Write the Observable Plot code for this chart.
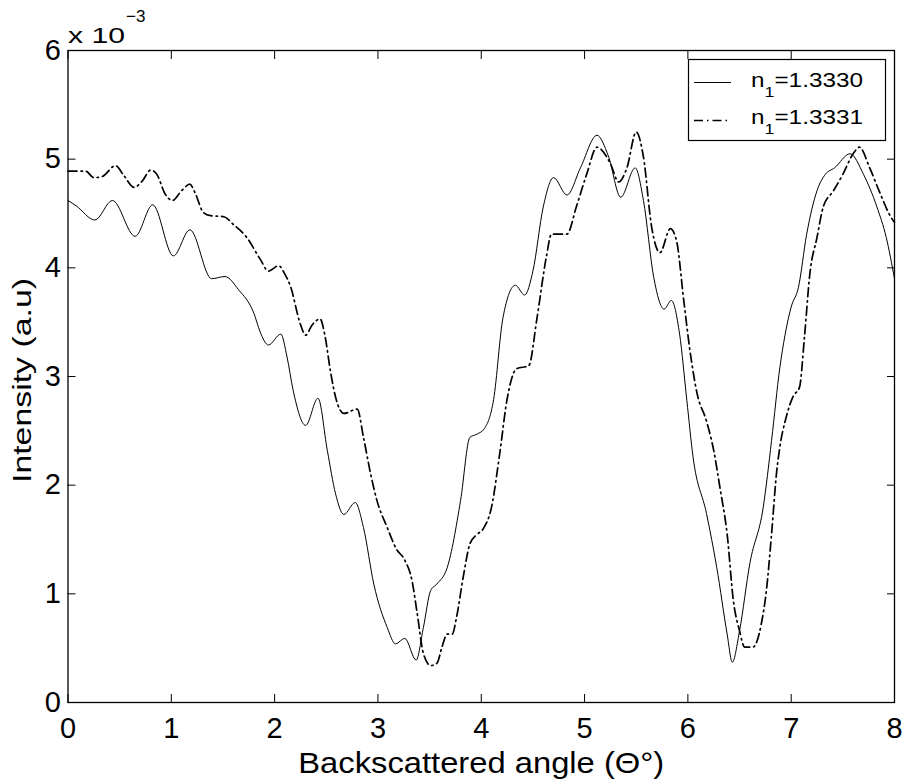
<!DOCTYPE html>
<html>
<head>
<meta charset="utf-8">
<script src="https://cdn.jsdelivr.net/npm/d3@7"></script>
<script src="https://cdn.jsdelivr.net/npm/@observablehq/plot@0.6"></script>
<style>
  html, body { margin: 0; padding: 0; background: white; }
  #wrap { position: relative; width: 902px; height: 782px; }
</style>
</head>
<body>
<div id="wrap">
  <div id="chart"></div>
</div>
<script>
// Backscattered angle (degrees) and intensity (x 1e-3), n1 = 1.3330
const thetaSolid = [0.00,0.08,0.26,0.43,0.65,0.82,1.02,1.18,1.39,1.52,1.65,1.80,1.86,1.94,2.06,2.12,2.18,2.30,2.42,2.51,2.59,2.67,2.78,2.86,2.96,3.09,3.17,3.26,3.37,3.44,3.51,3.57,3.67,3.80,3.89,3.96,4.03,4.12,4.21,4.33,4.42,4.50,4.60,4.70,4.83,4.96,5.12,5.23,5.35,5.49,5.57,5.67,5.77,5.84,5.92,5.99,6.05,6.18,6.28,6.38,6.43,6.50,6.60,6.73,6.81,6.89,6.94,7.00,7.07,7.15,7.25,7.33,7.42,7.57,7.70,7.83,7.92,8.00];
const intSolid   = [4.62,4.57,4.44,4.62,4.29,4.58,4.11,4.35,3.90,3.92,3.80,3.58,3.41,3.29,3.39,3.18,2.87,2.55,2.80,2.32,1.92,1.73,1.84,1.61,1.09,0.69,0.54,0.59,0.39,0.69,1.03,1.09,1.24,1.86,2.44,2.47,2.52,2.79,3.54,3.84,3.75,3.97,4.56,4.83,4.67,4.92,5.22,5.03,4.65,4.92,4.62,3.91,3.62,3.70,3.39,2.78,2.26,1.74,1.24,0.63,0.37,0.66,1.28,1.80,2.41,3.08,3.38,3.64,3.82,4.31,4.71,4.86,4.92,5.05,4.86,4.56,4.28,3.90];

// n1 = 1.3331
const thetaDash = [0.00,0.17,0.25,0.33,0.46,0.54,0.64,0.72,0.80,0.86,0.94,1.01,1.10,1.18,1.23,1.31,1.38,1.51,1.60,1.73,1.86,1.94,2.04,2.10,2.15,2.25,2.30,2.36,2.44,2.49,2.54,2.59,2.67,2.80,2.86,2.93,2.99,3.09,3.18,3.26,3.33,3.38,3.44,3.51,3.57,3.62,3.67,3.72,3.76,3.83,3.89,3.95,4.02,4.10,4.18,4.25,4.34,4.46,4.54,4.63,4.68,4.83,4.92,5.02,5.12,5.25,5.33,5.41,5.50,5.57,5.65,5.73,5.83,5.89,5.96,6.02,6.09,6.18,6.25,6.31,6.38,6.44,6.50,6.55,6.63,6.71,6.76,6.81,6.86,6.89,6.95,7.02,7.08,7.13,7.18,7.25,7.31,7.41,7.50,7.60,7.66,7.76,7.85,7.97,8.00];
const intDash   = [4.89,4.89,4.83,4.84,4.94,4.85,4.74,4.80,4.90,4.86,4.68,4.62,4.71,4.77,4.69,4.51,4.48,4.47,4.40,4.28,4.08,3.97,4.02,3.94,3.84,3.48,3.38,3.47,3.53,3.36,3.05,2.81,2.66,2.70,2.44,2.10,1.86,1.61,1.41,1.31,1.12,0.82,0.45,0.34,0.36,0.51,0.63,0.63,0.78,1.18,1.46,1.54,1.60,1.80,2.30,2.79,3.07,3.10,3.54,4.10,4.31,4.31,4.56,4.86,5.11,4.96,4.79,4.92,5.25,5.02,4.37,4.14,4.36,4.25,3.70,3.24,2.84,2.59,2.32,1.98,1.55,0.94,0.66,0.51,0.51,0.72,1.03,1.55,2.13,2.35,2.62,2.82,2.90,3.38,3.94,4.28,4.56,4.71,4.86,5.05,5.11,4.92,4.71,4.46,4.42];

const xTicks = [0,1,2,3,4,5,6,7,8];
const yTicks = [0,1,2,3,4,5,6];
const seriesLabels = ["1.3330", "1.3331"];
const xLabel = "Backscattered angle (Θ°)";
const yLabel = "Intensity (a.u)";

const solid = thetaSolid.map((t, i) => ({theta: t, I: intSolid[i]}));
const dash  = thetaDash.map((t, i) => ({theta: t, I: intDash[i]}));

const font = "'Liberation Sans', Arial, sans-serif";
const dashPattern = "9,4,1.5,4";

const chart = Plot.plot({
  width: 902,
  height: 782,
  marginLeft: 67.5,
  marginRight: 8,
  marginTop: 50,
  marginBottom: 80,
  style: {fontFamily: font, fontSize: "29px", color: "black", background: "white"},
  x: {domain: [0, 8]},
  y: {domain: [0, 6]},
  marks: [
    Plot.line(solid, {x: "theta", y: "I", curve: "monotone-x", stroke: "black", strokeWidth: 1}),
    Plot.line(dash, {x: "theta", y: "I", curve: "monotone-x", stroke: "black", strokeWidth: 1.7, strokeDasharray: dashPattern}),
    Plot.frame({stroke: "black", strokeWidth: 1.3}),
    Plot.axisX({anchor: "bottom", ticks: xTicks, tickFormat: "d", tickSize: -8, tickPadding: 22.5, fontSize: 29,
      label: xLabel, labelAnchor: "center", labelArrow: "none", labelOffset: 70}),
    Plot.axisX({anchor: "top", ticks: xTicks, tickSize: -8, tickFormat: () => "", label: null}),
    Plot.axisY({anchor: "left", ticks: yTicks, tickFormat: "d", tickSize: -8, tickPadding: 15, fontSize: 29,
      label: yLabel, labelAnchor: "center", labelArrow: "none", labelOffset: 55}),
    Plot.axisY({anchor: "right", ticks: yTicks, tickSize: -8, tickFormat: () => "", label: null})
  ]
});
document.getElementById("chart").append(chart);

const svg = d3.select(chart);

// Stretch axis labels to the reference's text extents
svg.selectAll('g[aria-label="x-axis label"] text')
  .attr("font-size", 30).attr("textLength", 366).attr("lengthAdjust", "spacingAndGlyphs");
svg.selectAll('g[aria-label="y-axis label"] text')
  .attr("font-size", 26).attr("textLength", 205).attr("lengthAdjust", "spacingAndGlyphs")
  .attr("dx", -4);

// Exponent label
const ex = svg.append("g").attr("font-family", font).attr("fill", "black").attr("text-anchor", "start");
ex.append("text").attr("x", 68).attr("y", 43).attr("font-size", 22)
  .attr("textLength", 57).attr("lengthAdjust", "spacingAndGlyphs").text("x 10");
ex.append("text").attr("x", 126).attr("y", 22).attr("font-size", 17).text("\u22123");

// Legend
const lg = svg.append("g").attr("font-family", font).attr("font-size", 20.5).attr("text-anchor", "start");
lg.append("rect").attr("x", 688.5).attr("y", 59.5).attr("width", 197).attr("height", 81)
  .attr("fill", "white").attr("stroke", "black").attr("stroke-width", 1.2);
const rows = [
  {y: 82.5, base: 87.3, dash: null, w: 1},
  {y: 120.5, base: 124, dash: dashPattern, w: 1.7}
];
rows.forEach((r, i) => {
  lg.append("line").attr("x1", 694).attr("x2", 731).attr("y1", r.y).attr("y2", r.y)
    .attr("stroke", "black").attr("stroke-width", r.w).attr("stroke-dasharray", r.dash);
  const t = lg.append("text").attr("x", 751).attr("y", r.base).attr("fill", "black")
    .attr("textLength", 112).attr("lengthAdjust", "spacingAndGlyphs");
  t.append("tspan").text("n");
  t.append("tspan").attr("font-size", 15).attr("dy", 10).text("1");
  t.append("tspan").attr("dy", -10).text("=" + seriesLabels[i]);
});
</script>
</body>
</html>
